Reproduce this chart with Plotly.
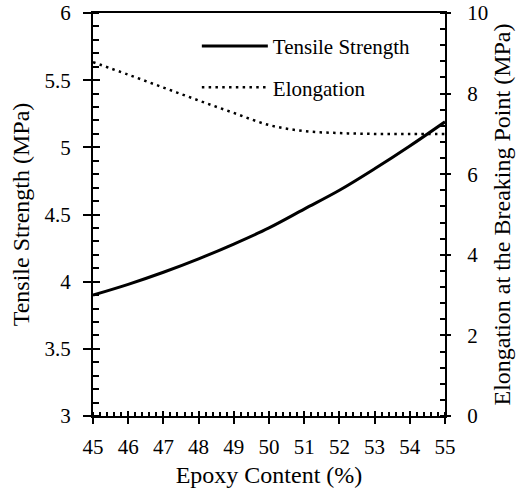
import plotly.graph_objects as go

epoxy = [45, 46, 47, 48, 49, 50, 51, 52, 53, 54, 55]
tensile = [3.90, 3.98, 4.07, 4.17, 4.28, 4.40, 4.54, 4.68, 4.84, 5.01, 5.19]
elongation = [8.78, 8.47, 8.15, 7.83, 7.52, 7.22, 7.07, 7.02, 7.00, 7.00, 7.00]

FONT = "Liberation Serif"
fig = go.Figure()
fig.add_trace(go.Scatter(x=epoxy, y=tensile, name="Tensile Strength", mode="lines",
                         line=dict(color="black", width=3, shape="spline"),
                         legendgroup="a"))
fig.add_trace(go.Scatter(x=epoxy, y=elongation, name="Elongation", mode="lines",
                         yaxis="y2", line=dict(color="black", width=2.5, dash="2.5px,4.3px", shape="spline"),
                         legendgroup="b"))

fig.update_layout(
    width=522, height=492,
    margin=dict(l=93, r=77, t=13, b=76, autoexpand=False),
    paper_bgcolor="white", plot_bgcolor="white",
    font=dict(family=FONT, size=21, color="black"),
    showlegend=True,
    legend=dict(x=0.295, y=0.968, xanchor="left", yanchor="top", bgcolor="rgba(0,0,0,0)",
                font=dict(family=FONT, size=21), itemwidth=66, tracegroupgap=11),
    xaxis=dict(range=[45, 55], dtick=1, tick0=45, ticks="outside", ticklen=6, tickwidth=2,
               tickcolor="black", showline=True, linecolor="black", linewidth=2, mirror=True,
               showgrid=False, zeroline=False, automargin=False,
               minor=dict(dtick=0.2, ticks="inside", ticklen=4, tickwidth=1.5, tickcolor="black", showgrid=False),
               title=dict(text="Epoxy Content (%)", font=dict(size=24), standoff=8),
               ticklabelstandoff=5),
    yaxis=dict(range=[3, 6], dtick=0.5, tick0=3, ticks="outside", ticklen=8, tickwidth=2,
               tickcolor="black", showline=True, linecolor="black", linewidth=2,
               showgrid=False, zeroline=False, automargin=False,
               minor=dict(dtick=0.1, ticks="inside", ticklen=6, tickwidth=1.5, tickcolor="black", showgrid=False),
               title=dict(text="Tensile Strength (MPa)", font=dict(size=24), standoff=8),
               ticklabelstandoff=8),
    yaxis2=dict(range=[0, 10], dtick=2, tick0=0, overlaying="y", side="right", anchor="x",
                ticks="outside", ticklen=4, tickwidth=2, tickcolor="black", automargin=False,
                showline=True, linecolor="black", linewidth=2, showgrid=False, zeroline=False,
                minor=dict(dtick=0.4, ticks="inside", ticklen=5, tickwidth=1.5, tickcolor="black", showgrid=False),
                title=dict(text="Elongation at the Breaking Point (MPa)", font=dict(size=24), standoff=6),
                ticklabelstandoff=12),
    xaxis3=dict(range=[45, 55], dtick=1, tick0=45, overlaying="x", anchor="y", side="bottom",
                ticks="inside", ticklen=5, tickwidth=2, tickcolor="black", automargin=False,
                showticklabels=False, showline=False, showgrid=False, zeroline=False),
    yaxis3=dict(range=[3, 6], dtick=0.5, tick0=3, overlaying="y", anchor="x", side="left",
                ticks="inside", ticklen=7, tickwidth=2, tickcolor="black", automargin=False,
                showticklabels=False, showline=False, showgrid=False, zeroline=False),
    yaxis4=dict(range=[0, 10], dtick=2, tick0=0, overlaying="y", anchor="x", side="right",
                ticks="inside", ticklen=5, tickwidth=2, tickcolor="black", automargin=False,
                showticklabels=False, showline=False, showgrid=False, zeroline=False),
)
fig.add_trace(go.Scatter(x=[], y=[], xaxis="x3", yaxis="y3", showlegend=False, hoverinfo="skip"))
fig.add_trace(go.Scatter(x=[], y=[], xaxis="x3", yaxis="y4", showlegend=False, hoverinfo="skip"))

fig.write_html("out.html")
